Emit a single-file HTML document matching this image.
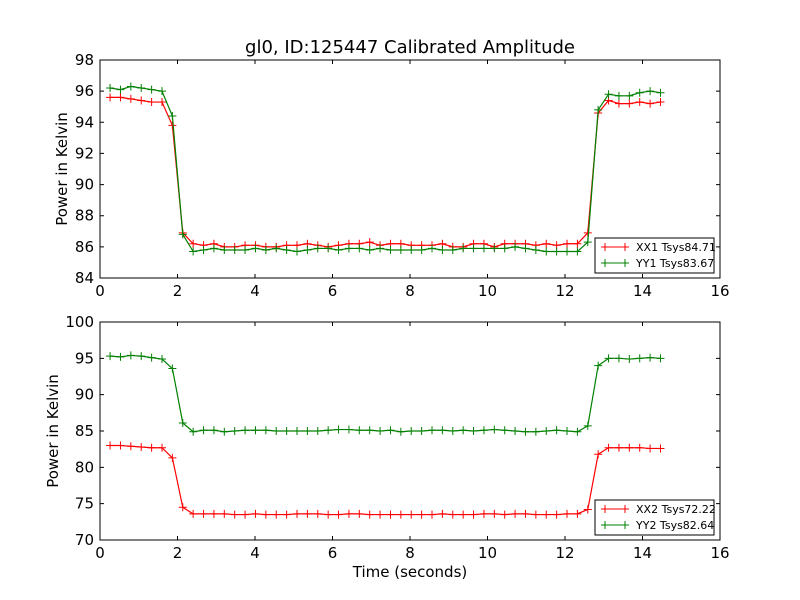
<!DOCTYPE html>
<html><head><meta charset="utf-8"><style>body{margin:0;background:#fff}svg{display:block;font-family:"DejaVu Sans","Liberation Sans",sans-serif}</style></head><body>
<svg id="c" width="800" height="600"></svg>
<script>
const times = Array.from({length:54},(_,i)=>0.26+i*0.268);
const xx1 = [95.6,95.6,95.5,95.4,95.3,95.3,93.8,86.9,86.2,86.1,86.2,86.0,86.0,86.1,86.1,86.0,86.0,86.1,86.1,86.2,86.1,86.0,86.1,86.2,86.2,86.3,86.1,86.2,86.2,86.1,86.1,86.1,86.2,86.0,86.0,86.2,86.2,86.0,86.2,86.2,86.2,86.1,86.2,86.1,86.2,86.2,86.9,94.6,95.4,95.2,95.2,95.3,95.2,95.3];
const yy1 = [96.2,96.1,96.3,96.2,96.1,96.0,94.4,86.8,85.7,85.8,85.9,85.8,85.8,85.8,85.9,85.8,85.9,85.8,85.7,85.8,85.9,85.9,85.8,85.9,85.9,85.8,85.9,85.8,85.8,85.8,85.8,85.9,85.8,85.8,85.9,85.9,85.9,85.9,85.9,86.0,85.9,85.8,85.7,85.7,85.7,85.7,86.3,94.8,95.8,95.7,95.7,95.9,96.0,95.9];
const xx2 = [83.0,83.0,82.9,82.8,82.7,82.7,81.3,74.5,73.6,73.6,73.6,73.6,73.5,73.5,73.6,73.5,73.5,73.5,73.6,73.6,73.6,73.5,73.5,73.6,73.6,73.5,73.5,73.5,73.5,73.5,73.5,73.5,73.6,73.5,73.5,73.5,73.6,73.6,73.5,73.6,73.6,73.5,73.5,73.5,73.6,73.6,74.2,81.8,82.7,82.7,82.7,82.7,82.6,82.6];
const yy2 = [95.3,95.2,95.4,95.3,95.1,94.9,93.6,86.1,84.9,85.1,85.1,84.9,85.0,85.1,85.1,85.1,85.0,85.0,85.0,85.0,85.0,85.1,85.2,85.2,85.1,85.1,85.0,85.1,84.9,85.0,85.0,85.1,85.1,85.0,85.1,85.0,85.1,85.2,85.1,85.0,84.9,84.9,85.0,85.1,85.0,84.9,85.7,94.0,95.0,95.0,94.9,95.0,95.1,95.0];
const xTicks = [0,2,4,6,8,10,12,14,16];
const yTicks1 = [84,86,88,90,92,94,96,98];
const yTicks2 = [70,75,80,85,90,95,100];
const NS="http://www.w3.org/2000/svg", svg=document.getElementById('c');
function el(t,a,p){const e=document.createElementNS(NS,t);for(const k in a)e.setAttribute(k,a[k]);(p||svg).appendChild(e);return e;}
function panel(top,bot,ymin,ymax,yt,s1,s2,n1,n2,nm,ylx){
  const L=100,R=720;
  const X=v=>L+(v-0)/16*(R-L), Y=v=>bot-(v-ymin)/(ymax-ymin)*(bot-top);
  const g=el('g',{});
  [[s1,'#ff0000',n1],[s2,'#008000',n2]].forEach(([s,c,n])=>{
    const sg=el('g',{},g);
    el('polyline',{points:s.map((v,i)=>X(times[i])+','+Y(v)).join(' '),fill:'none',stroke:c,'stroke-width':1.2},sg);
    s.forEach((v,i)=>{const x=X(times[i]),y=Y(v);el('path',{d:`M${x-4},${y}h8M${x},${y-4}v8`,stroke:c,'stroke-width':1},sg);});
  });
  el('rect',{x:L,y:top,width:R-L,height:bot-top,fill:'none',stroke:'#000','stroke-width':1},g);
  xTicks.forEach(t=>{const x=X(t);el('path',{d:`M${x},${bot}v-4M${x},${top}v4`,stroke:'#000'},g);
    const tx=el('text',{x:x,y:bot+18,'font-size':15,'text-anchor':'middle'},g);tx.textContent=t;});
  yt.forEach(t=>{const y=Y(t);el('path',{d:`M${L},${y}h4M${R},${y}h-4`,stroke:'#000'},g);
    const tx=el('text',{x:L-6,y:y+5,'font-size':15,'text-anchor':'end'},g);tx.textContent=t;});
  const yl=el('text',{x:0,y:0,'font-size':15,'text-anchor':'middle',transform:`translate(${ylx},${(top+bot)/2}) rotate(-90)`},g);yl.textContent='Power in Kelvin';
  const lg=el('g',{},g);
  el('rect',{x:595,y:bot-40,width:119,height:35,fill:'#fff',stroke:'#000'},lg);
  [[n1,'#ff0000'],[n2,'#008000']].forEach(([n,c],k)=>{const y=bot-31+k*16;
    el('path',{d:`M601,${y}h28M605,${y-4}v8M625,${y-4}v8`,stroke:c},lg);
    const tx=el('text',{x:636,y:y+4,'font-size':11},lg);tx.textContent=n;});
}
const ti=el('text',{x:410,y:53,'font-size':18,'text-anchor':'middle'});ti.textContent='gl0, ID:125447 Calibrated Amplitude';

panel(60,278,84,98,yTicks1,xx1,yy1,'XX1 Tsys84.71','YY1 Tsys83.67','top-panel',67);
panel(322,540,70,100,yTicks2,xx2,yy2,'XX2 Tsys72.22','YY2 Tsys82.64','bottom-panel',58);
const xl=el('text',{x:410,y:577,'font-size':15,'text-anchor':'middle'});xl.textContent='Time (seconds)';

</script></body></html>
